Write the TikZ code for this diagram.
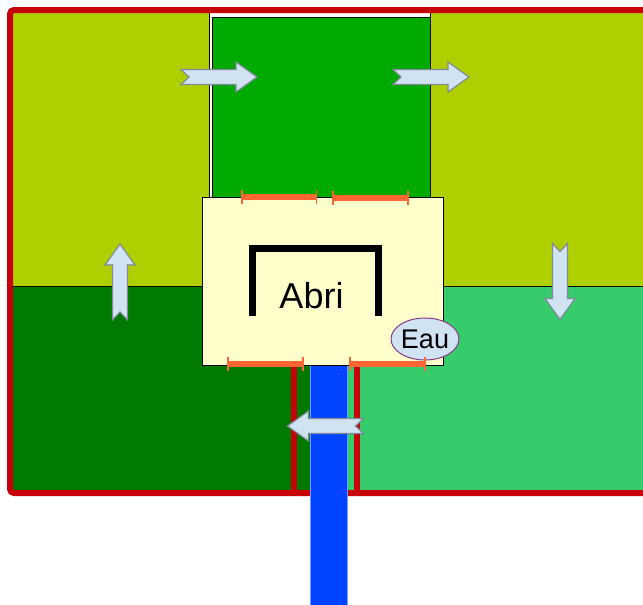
\documentclass[tikz,border=0pt]{standalone}
\usepackage{fontspec}
\setmainfont{Liberation Sans}
\usepackage{tikz}
\usetikzlibrary{shapes.geometric}

\definecolor{meadow}{RGB}{176,207,0}
\definecolor{paddockmid}{RGB}{0,170,0}
\definecolor{paddockdark}{RGB}{0,122,0}
\definecolor{paddocklight}{RGB}{54,203,107}
\definecolor{shelter}{RGB}{255,255,204}
\definecolor{fence}{RGB}{200,0,10}
\definecolor{gate}{RGB}{255,102,51}
\definecolor{water}{RGB}{0,68,255}
\definecolor{flowfill}{RGB}{207,227,243}
\definecolor{flowline}{RGB}{128,138,153}
\definecolor{eauline}{RGB}{139,58,139}

\begin{document}
\begin{tikzpicture}[
        x=0.5pt, y=-0.5pt,
        field/.style={draw=black, line width=0.4pt},
        fenceline/.style={draw=fence, line width=3pt},
        gatebar/.style={draw=gate, line width=3pt},
        gatetick/.style={draw=gate, line width=0.8pt},
        flowarrow/.pic={\draw[draw=flowline, fill=flowfill, line width=0.6pt]
            (-38,-7.5) -- (17,-7.5) -- (17,-15) -- (38,0) -- (17,15)
            -- (17,7.5) -- (-38,7.5) -- (-30,0) -- cycle;},
        label/.style={font=\fontsize{18}{20}\selectfont, inner sep=0pt, anchor=base},
        pond/.style={ellipse, draw=eauline, fill=flowfill, line width=0.5pt,
            minimum width=31.5pt, minimum height=21pt, inner sep=0pt,
            font=\fontsize{13.5}{15}\selectfont}
    ]
        \path[use as bounding box] (0,0) rectangle (643,605);
        \clip (0,0) rectangle (643,605);

        % Paddocks.
        \filldraw[field, fill=meadow] (10,10) rectangle (720,286);
        \filldraw[field, fill=white] (209,10) rectangle (430,197);
        \filldraw[field, fill=paddockmid] (212,17) rectangle (430,197);
        \filldraw[field, fill=paddockdark] (10,286) rectangle (328,493);
        \filldraw[field, fill=paddocklight] (328,286) rectangle (720,493);

        % Fences and the corridor.
        \draw[fenceline, rounded corners=2pt] (10,10) rectangle (720,493);
        \draw[fenceline] (293.5,365) -- (293.5,493);
        \draw[fenceline] (356.5,365) -- (356.5,493);
        \filldraw[draw=water!55!white, fill=water, line width=0.4pt]
            (310,365) rectangle (347,620);

        % Shelter.
        \filldraw[field, fill=shelter] (202,197) rectangle (443,365);
        \draw[line width=3.2pt] (252.5,316) -- (252.5,248.5) -- (378.5,248.5)
            -- (378.5,316);
        \node[label] (abri) at (311.5,308.3) {Abri};
        \node[pond] (eau) at (425,339) {Eau};

        % Gates.
        \foreach \xa/\xb/\yy in {242/316.5/197.3, 333/408/198.3,
                228/303/364, 350/425/364} {
            \draw[gatebar] (\xa,\yy) -- (\xb,\yy);
            \draw[gatetick] (\xa,\yy-7) -- (\xa,\yy+7)
                (\xb,\yy-7) -- (\xb,\yy+7);
        }

        % Rotation between paddocks.
        \pic at (219,77) {flowarrow};
        \pic at (431,77) {flowarrow};
        \pic[rotate=-90] at (560,281.5) {flowarrow};
        \pic[rotate=180] at (325.5,426) {flowarrow};
        \pic[rotate=90] at (120,282) {flowarrow};
    \end{tikzpicture}
\end{document}
